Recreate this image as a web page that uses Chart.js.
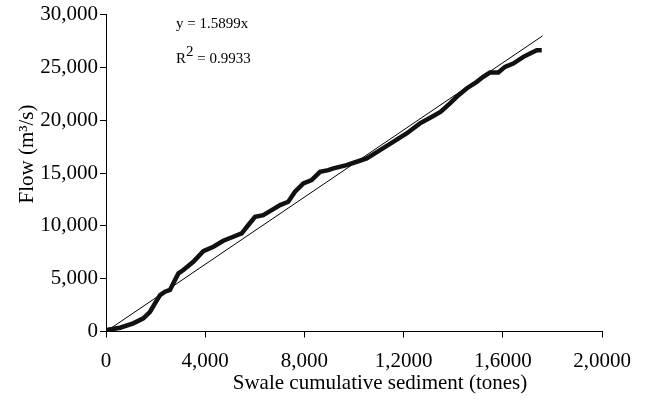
<!DOCTYPE html>
<html>
<head>
<meta charset="utf-8">
<script src="https://cdn.jsdelivr.net/npm/chart.js@4/dist/chart.umd.min.js"></script>
<style>
  html, body { margin: 0; padding: 0; background: #fff; }
  #wrap { width: 649px; height: 403px; }
</style>
</head>
<body>
<div id="wrap"><canvas id="chart"></canvas></div>
<script>
// cumulative sediment (tones) vs flow (m3/s)
const sediment = [0, 30, 565, 1100, 1505, 1775, 1975, 2180, 2380, 2580, 2715, 2920, 3120, 3520, 3925,
  4330, 4730, 5130, 5470, 5740, 6010, 6340, 6680, 7020, 7350, 7620, 7960, 8290, 8630, 8960, 9170,
  9700, 10110, 10510, 11050, 11580, 12120, 12660, 13200, 13500, 13870, 14140, 14540, 14950, 15210,
  15480, 15820, 16090, 16420, 16830, 17100, 17370, 17570];
const flow = [0, 140, 360, 775, 1250, 1870, 2670, 3450, 3770, 3930, 4560, 5500, 5820, 6600, 7600,
  8020, 8590, 8970, 9290, 10080, 10860, 11020, 11490, 11970, 12280, 13230, 14020, 14330, 15120, 15280, 15440,
  15750, 16070, 16390, 17170, 17960, 18750, 19700, 20400, 20800, 21590, 22210, 23010, 23630, 24110,
  24520, 24520, 25050, 25370, 26000, 26320, 26630, 26630];

// linear fit through origin
const slope = 1.5899;
const rSquared = 0.9933;
const trendX = [0, 17600];

const xTickLabels = ["0", "4,000", "8,000", "1,2000", "1,6000", "2,0000"];
const yTickLabels = ["0", "5,000", "10,000", "15,000", "20,000", "25,000", "30,000"];
const xTitle = "Swale cumulative sediment (tones)";
const yTitle = "Flow (m³/s)";

const serif = "'Liberation Serif', 'DejaVu Serif', serif";

// equation, R² and the two axis titles
const textLabels = {
  id: "textLabels",
  afterDraw(chart) {
    const ctx = chart.ctx;
    ctx.save();
    ctx.fillStyle = "#000";
    ctx.textBaseline = "alphabetic";
    ctx.textAlign = "left";
    ctx.font = "15px " + serif;
    ctx.fillText("y = " + slope + "x", 176, 28);
    ctx.fillText("R", 176, 63);
    const rw = ctx.measureText("R").width;
    ctx.font = "15px " + serif;
    ctx.fillText("2", 176 + rw, 56);
    const sw = ctx.measureText("2").width;
    ctx.fillText(" = " + rSquared, 176 + rw + sw, 63);

    ctx.font = "21px " + serif;
    ctx.textAlign = "center";
    ctx.textBaseline = "middle";
    ctx.fillText(xTitle, 380, 383);
    ctx.translate(27, 154);
    ctx.rotate(-Math.PI / 2);
    ctx.fillText(yTitle, 0, 0);
    ctx.restore();
  }
};

new Chart(document.getElementById("chart"), {
  type: "scatter",
  data: {
    datasets: [
      {
        label: "Flow",
        data: sediment.map((x, i) => ({ x: x, y: flow[i] })),
        showLine: true,
        borderColor: "#111",
        borderWidth: 4.5,
        pointRadius: 0,
        tension: 0
      },
      {
        label: "Trend",
        data: trendX.map(x => ({ x: x, y: slope * x })),
        showLine: true,
        borderColor: "#000",
        borderWidth: 1,
        pointRadius: 0
      }
    ]
  },
  options: {
    responsive: true,
    maintainAspectRatio: false,
    animation: false,
    layout: { padding: { left: 0, right: 47, top: 14, bottom: 0 } },
    plugins: { legend: { display: false }, tooltip: { enabled: false } },
    scales: {
      x: {
        type: "linear",
        min: 0,
        max: 20000,
        afterFit: s => { s.height = 403 - 331.5; },
        border: { color: "#000", width: 1 },
        grid: { drawOnChartArea: false, drawTicks: true, tickLength: 6, color: "#000" },
        ticks: {
          stepSize: 4000,
          color: "#000",
          font: { family: serif, size: 21 },
          padding: 11,
          maxRotation: 0,
          callback: v => xTickLabels[v / 4000]
        }
      },
      y: {
        type: "linear",
        min: 0,
        max: 30000,
        afterFit: s => { s.width = 106; },
        border: { color: "#000", width: 1 },
        grid: { drawOnChartArea: false, drawTicks: true, tickLength: 6, color: "#000" },
        ticks: {
          stepSize: 5000,
          color: "#000",
          font: { family: serif, size: 21 },
          padding: 2,
          callback: v => yTickLabels[v / 5000]
        }
      }
    }
  },
  plugins: [textLabels]
});
</script>
</body>
</html>
